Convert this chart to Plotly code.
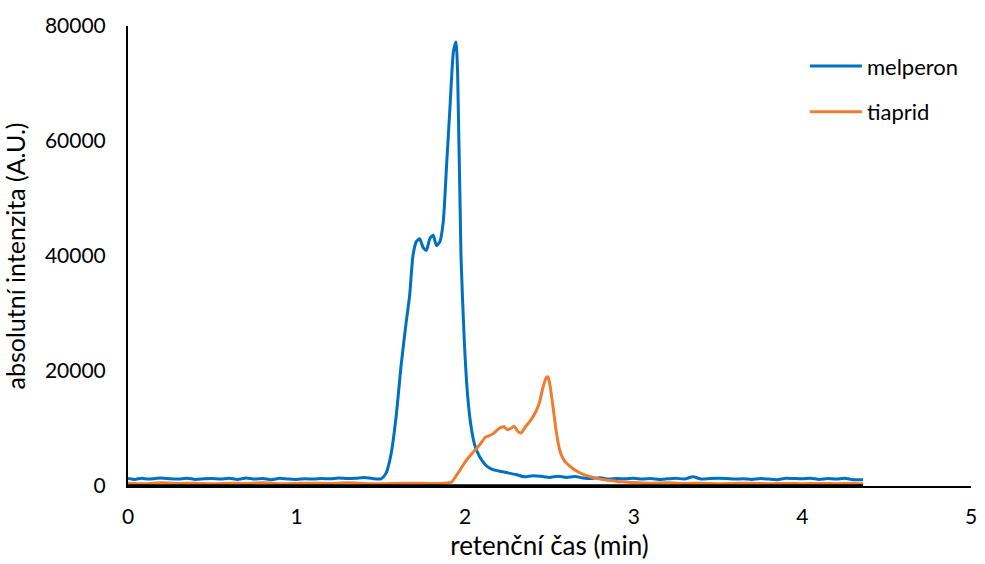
import plotly.graph_objects as go

# melperon (blue)
mel_x = [0, 0.04, 0.08, 0.12, 0.16, 0.2, 0.25, 0.3, 0.35, 0.4, 0.45, 0.5, 0.55, 0.6, 0.65, 0.7,
         0.75, 0.8, 0.85, 0.9, 0.95, 1.0, 1.05, 1.1, 1.15, 1.2, 1.25, 1.3, 1.35, 1.4, 1.45, 1.5,
         1.53, 1.56, 1.59, 1.62, 1.65, 1.67, 1.69, 1.71, 1.73, 1.75, 1.77, 1.79, 1.81, 1.83, 1.85,
         1.87, 1.89, 1.91, 1.93, 1.945, 1.955, 1.975, 1.995, 2.015, 2.035, 2.055, 2.075, 2.1, 2.13, 2.16,
         2.2, 2.25, 2.3, 2.35, 2.4, 2.45, 2.5, 2.55, 2.6, 2.65, 2.7, 2.75, 2.8, 2.85, 2.9, 2.95,
         3.0, 3.05, 3.1, 3.15, 3.2, 3.25, 3.3, 3.35, 3.4, 3.45, 3.5, 3.55, 3.6, 3.65, 3.7, 3.75,
         3.8, 3.85, 3.9, 3.95, 4.0, 4.05, 4.1, 4.15, 4.2, 4.25, 4.3, 4.36]
mel_y = [1300, 1150, 1350, 1200, 1300, 1400, 1250, 1200, 1350, 1150, 1250, 1300, 1200, 1350, 1150, 1400,
         1200, 1300, 1100, 1350, 1200, 1150, 1250, 1200, 1300, 1250, 1400, 1300, 1350, 1500, 1300, 1250,
         2200, 5500, 12000, 21000, 28500, 33000, 40000, 42500, 43000, 41500, 41000, 43000, 43600, 41800, 42500,
         46000, 56000, 66000, 75500, 77200, 72000, 40000, 25000, 15500, 10300, 7300, 5700, 4400, 3400, 2900,
         2600, 2300, 2000, 1600, 1800, 1700, 1500, 1700, 1500, 1650, 1400, 1300, 1450, 1200, 1300, 1250,
         1350, 1200, 1300, 1150, 1250, 1350, 1200, 1600, 1200, 1300, 1350, 1300, 1200, 1250, 1150, 1300,
         1200, 1100, 1350, 1300, 1250, 1350, 1150, 1300, 1200, 1350, 1100, 1100]

# tiaprid (orange)
tia_x = [0, 0.1, 0.2, 0.3, 0.4, 0.5, 0.6, 0.7, 0.8, 0.9, 1.0, 1.1, 1.2, 1.3, 1.4, 1.5, 1.6, 1.7,
         1.8, 1.88, 1.92, 1.94, 1.97, 2.0, 2.03, 2.06, 2.09, 2.12, 2.14, 2.17, 2.2, 2.23, 2.25, 2.27,
         2.29, 2.31, 2.33, 2.36, 2.39, 2.42, 2.44, 2.46, 2.48, 2.49, 2.5, 2.52, 2.54, 2.56, 2.58, 2.6,
         2.64, 2.68, 2.72, 2.76, 2.8, 2.85, 2.9, 2.95, 3.0, 3.1, 3.2, 3.3, 3.4, 3.5, 3.6, 3.7, 3.8,
         3.9, 4.0, 4.1, 4.2, 4.3, 4.36]
tia_y = [500, 400, 550, 450, 500, 400, 500, 450, 550, 400, 450, 500, 450, 550, 450, 400, 450, 500,
         450, 500, 700, 1500, 2800, 4200, 5300, 6300, 7300, 8500, 8700, 9200, 10000, 10300, 9800, 10000,
         10400, 9600, 9200, 10400, 11500, 13000, 14500, 17000, 18800, 19000, 18000, 14000, 9500, 6300, 4800, 4000,
         3000, 2300, 1800, 1500, 1200, 1000, 800, 700, 600, 500, 550, 450, 500, 400, 450, 500, 400,
         450, 400, 450, 400, 450, 400]

# third (black) trace near zero, not in legend
blk_x = [0, 0.5, 1.0, 1.5, 2.0, 2.5, 3.0, 3.5, 4.0, 4.36]
blk_y = [60, 50, 60, 50, 60, 50, 60, 50, 60, 50]

FONT = "Lato"

fig = go.Figure()
fig.add_trace(go.Scatter(x=mel_x, y=mel_y, mode="lines", name="melperon", legendgroup="a",
                         line=dict(color="#0070C0", width=3, shape="spline", smoothing=0.6)))
fig.add_trace(go.Scatter(x=tia_x, y=tia_y, mode="lines", name="tiaprid", legendgroup="b",
                         line=dict(color="#ED7D31", width=3, shape="spline", smoothing=0.6)))
fig.add_trace(go.Scatter(x=blk_x, y=blk_y, mode="lines", line=dict(color="black", width=3),
                         showlegend=False, hoverinfo="skip"))

fig.update_layout(
    width=985, height=564,
    margin=dict(l=128, r=8, t=26, b=78),
    paper_bgcolor="white", plot_bgcolor="white",
    font=dict(family=FONT, size=21, color="black"),
    legend=dict(x=0.803, y=0.958, xanchor="left", yanchor="top", traceorder="grouped",
                tracegroupgap=14, font=dict(size=22), bgcolor="rgba(0,0,0,0)", itemwidth=52),
    xaxis=dict(range=[0, 5], tickvals=[0, 1, 2, 3, 4, 5], showgrid=False, zeroline=False,
               showline=True, linecolor="black", linewidth=2, ticks="", ticklabelstandoff=11,
               title=dict(text="retenční čas (min)", standoff=10, font=dict(size=26))),
    yaxis=dict(range=[0, 80000], tickvals=[0, 20000, 40000, 60000, 80000], showgrid=False,
               zeroline=False, showline=True, linecolor="black", linewidth=2, ticks="",
               ticklabelstandoff=16, tickformat="d",
               title=dict(text="absolutní intenzita (A.U.)", standoff=12, font=dict(size=25))),
)

fig.write_html("out.html")
